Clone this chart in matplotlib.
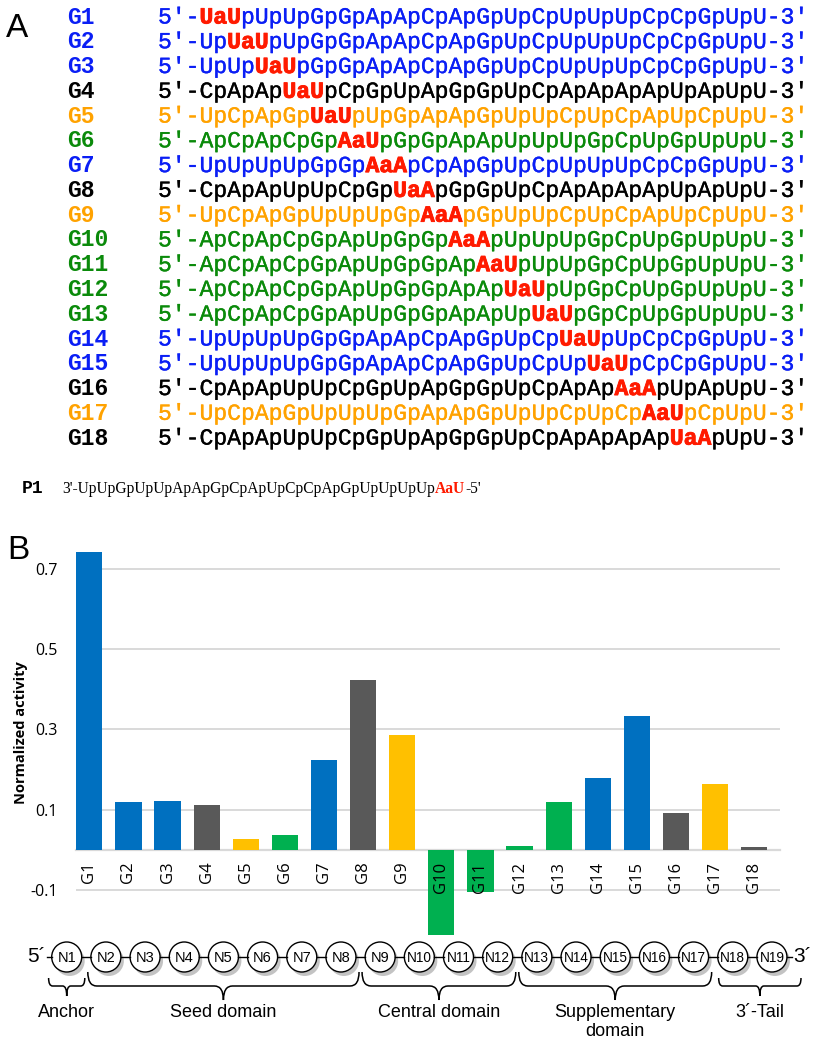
import matplotlib.pyplot as plt
from matplotlib.patches import Circle, PathPatch
from matplotlib.path import Path
import matplotlib.patheffects as pe
import numpy as np

# ---- panel A: guide sequences ----
guide_names = ["G1", "G2", "G3", "G4", "G5", "G6", "G7", "G8", "G9",
               "G10", "G11", "G12", "G13", "G14", "G15", "G16", "G17", "G18"]
guide_group = ["blue", "blue", "blue", "black", "orange", "green", "blue", "black", "orange",
               "green", "green", "green", "green", "blue", "blue", "black", "orange", "black"]
seq_prefix = ["", "Up", "UpUp", "CpApAp", "UpCpApGp", "ApCpApCpGp", "UpUpUpUpGpGp",
              "CpApApUpUpCpGp", "UpCpApGpUpUpUpGp", "ApCpApCpGpApUpGpGp",
              "ApCpApCpGpApUpGpGpAp", "ApCpApCpGpApUpGpGpApAp", "ApCpApCpGpApUpGpGpApApUp",
              "UpUpUpUpGpGpApApCpApGpUpCp", "UpUpUpUpGpGpApApCpApGpUpCpUp",
              "CpApApUpUpCpGpUpApGpGpUpCpApAp", "UpCpApGpUpUpUpGpApApGpUpUpCpUpCp",
              "CpApApUpUpCpGpUpApGpGpUpCpApApApAp"]
seq_mod = ["UaU", "UaU", "UaU", "UaU", "UaU", "AaU", "AaA", "UaA", "AaA",
           "AaA", "AaU", "UaU", "UaU", "UaU", "UaU", "AaA", "AaU", "UaA"]
seq_suffix = ["pUpUpGpGpApApCpApGpUpCpUpUpUpCpCpGpUpU", "pUpGpGpApApCpApGpUpCpUpUpUpCpCpGpUpU",
              "pGpGpApApCpApGpUpCpUpUpUpCpCpGpUpU", "pCpGpUpApGpGpUpCpApApApApUpApUpU",
              "pUpGpApApGpUpUpCpUpCpApUpCpUpU", "pGpGpApApUpUpUpGpCpUpGpUpUpU",
              "pCpApGpUpCpUpUpUpCpCpGpUpU", "pGpGpUpCpApApApApUpApUpU",
              "pGpUpUpCpUpCpApUpCpUpU", "pUpUpUpGpCpUpGpUpUpU", "pUpUpGpCpUpGpUpUpU",
              "pUpGpCpUpGpUpUpU", "pGpCpUpGpUpUpU", "pUpCpCpGpUpU", "pCpCpGpUpU",
              "pUpApUpU", "pCpUpU", "pUpU"]
p1_name = "P1"
p1_prefix = "3'-UpUpGpUpUpApApGpCpApUpCpCpApGpUpUpUpUp"
p1_mod = "AaU"
p1_suffix = "-5'"

# ---- panel B: activity ----
activity = [0.743, 0.120, 0.123, 0.111, 0.027, 0.037, 0.225, 0.424, 0.285,
            -0.212, -0.104, 0.010, 0.120, 0.178, 0.333, 0.091, 0.164, 0.007]
ytick_vals = [0.7, 0.5, 0.3, 0.1, -0.1]
ytick_labels = ["0.7", "0.5", "0.3", "0.1", "-0.1"]

# ---- diagram ----
node_labels = ["N%d" % i for i in range(1, 20)]
domains = [("Anchor", 1, 1, "bracket"), ("Seed domain", 2, 8, "brace"),
           ("Central domain", 9, 12, "brace"), ("Supplementary\ndomain", 13, 17, "brace"),
           ("3\u00b4-Tail", 18, 19, "bracket")]

text_col = {"blue": "#0a1ef5", "black": "black", "orange": "#ffa200", "green": "#0a8a0a"}
bar_col = {"blue": "#0070c0", "black": "#595959", "orange": "#ffc000", "green": "#00b050"}
RED = "#ff1a00"

W, H = 818, 1050
fig = plt.figure(figsize=(W / 100, H / 100), dpi=100)

# overlay axes in pixel units
ov = fig.add_axes([0, 0, 1, 1])
ov.set_xlim(0, W)
ov.set_ylim(H, 0)
ov.axis("off")

mono = "Liberation Mono"
fs = 16.6
cw = 0.6 * fs * 100 / 72
x_name, x_seq = 67, 158
for i, name in enumerate(guide_names):
    yb = 23.5 + i * 24.77
    c = text_col[guide_group[i]]
    ov.text(x_name, yb, name, family=mono, weight="bold", size=fs, color=c, va="baseline")
    pieces = [("5'-" + seq_prefix[i], c, "normal", 0.25), (seq_mod[i], RED, "bold", 0.6),
              (seq_suffix[i] + "-3'", c, "normal", 0.25)]
    k = 0
    for s, col, w, sw in pieces:
        t = ov.text(x_seq + k * cw, yb, s, family=mono, weight=w, size=fs, color=col,
                    va="baseline")
        t.set_path_effects([pe.withStroke(linewidth=sw, foreground=col)])
        k += len(s)

# P1 row (narrower face)
ov.text(22, 493, p1_name, family=mono, weight="bold", size=13, va="baseline")
prev = None
for s, col, w in [(p1_prefix, "black", "normal"), (p1_mod, RED, "bold"), (p1_suffix, "black", "normal")]:
    if prev is None:
        prev = ov.text(62, 493, s, family="Liberation Serif", weight=w, size=11.2, color=col,
                       va="baseline")
    else:
        prev = ov.annotate(s, xy=(1, 0), xycoords=prev, family="Liberation Serif", weight=w,
                           size=11.2, color=col, va="bottom")

ov.text(6, 37, "A", family="Liberation Sans", size=24, va="baseline")
ov.text(7, 559, "B", family="Liberation Sans", size=24, va="baseline")

# nucleotide chain
sp = 39.18
nx = 66.7 + sp * np.arange(len(node_labels))
ny = 957
r = 15
ov.plot([47, nx[0] - r], [ny, ny], color="black", lw=1)
ov.plot([nx[-1] + r, 792], [ny, ny], color="black", lw=1)
for a, b in zip(nx[:-1], nx[1:]):
    ov.plot([a + r, b - r], [ny, ny], color="black", lw=1)
for i, lab in enumerate(node_labels):
    ov.add_patch(Circle((nx[i] + 3, ny + 4), r, fc="#b5b5b5", ec="none", alpha=0.8))
    ov.add_patch(Circle((nx[i], ny), r, fc="white", ec="black", lw=1))
    ov.text(nx[i], ny + 0.5, lab, family="Liberation Sans", size=10.5 if i < 9 else 9.8,
            ha="center", va="center")
ov.text(36, ny, "5\u00b4", family="Liberation Sans", size=15, ha="center", va="center")
ov.text(803, ny, "3\u00b4", family="Liberation Sans", size=15, ha="center", va="center")


def brace(x0, x1, yt, ym, tip, rad):
    xc = (x0 + x1) / 2
    verts = [(x0, yt), (x0, ym), (x0 + rad, ym), (xc - rad, ym), (xc, ym), (xc, tip),
             (xc, ym), (xc + rad, ym), (x1 - rad, ym), (x1, ym), (x1, yt)]
    codes = [Path.MOVETO, Path.CURVE3, Path.CURVE3, Path.LINETO, Path.CURVE3, Path.CURVE3,
             Path.CURVE3, Path.CURVE3, Path.LINETO, Path.CURVE3, Path.CURVE3]
    ov.add_patch(PathPatch(Path(verts, codes), fc="none", ec="black", lw=1.1))
    return xc


for lab, a, b, kind in domains:
    x0 = nx[a - 1] - sp / 2 + 1.5
    x1 = nx[b - 1] + sp / 2 - 1.5
    if kind == "brace":
        xc = brace(x0, x1, 972, 986, 1000, 9)
    else:
        if b == len(node_labels):
            x1 = 801
            x0 += 4
        xc = brace(x0, x1, 978, 986, 996, 4)
    ov.text(xc, 1004, lab, family="Liberation Sans", size=13, ha="center", va="top",
            linespacing=1.15)

# ---- bar chart ----
ax = fig.add_axes([76 / W, 1 - 936.2 / H, 704 / W, 407.5 / H])
ax.patch.set_alpha(0)
x = np.arange(len(guide_names))
for v in ytick_vals:
    ax.axhline(v, color="#d9d9d9", lw=1.4, zorder=0.5)
ax.bar(x, activity, width=0.67, color=[bar_col[g] for g in guide_group], zorder=2)
ax.set_axisbelow(False)
ax.set_xlim(-0.34, 17.66)
ax.set_ylim(-0.215, 0.8)
ax.set_yticks(ytick_vals, ytick_labels)
for s in ["top", "right", "left"]:
    ax.spines[s].set_visible(False)
ax.spines["bottom"].set_position(("data", 0))
ax.spines["bottom"].set_color("#d9d9d9")
ax.spines["bottom"].set_linewidth(1.6)
ax.spines["bottom"].set_zorder(1)
ax.set_xticks(x, guide_names, rotation=90)
ax.tick_params(axis="x", length=0, pad=8.5, labelsize=12)
ax.tick_params(axis="y", length=0, pad=13, labelsize=11.5)
for t in ax.get_xticklabels() + ax.get_yticklabels():
    t.set_family("Open Sans")
ax.set_ylabel("Normalized activity", family="Open Sans", weight="bold", size=10.5)
ax.yaxis.set_label_coords(-0.068, 0.5)

fig.savefig("out.png", dpi=100)
